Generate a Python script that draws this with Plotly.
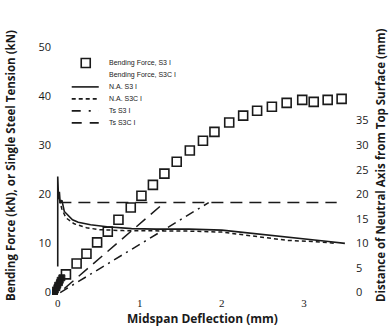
import plotly.graph_objects as go

# Bending Force, S3 I (kN) vs midspan deflection (mm)
bf_s3i_x = [0.10, 0.23, 0.35, 0.48, 0.61, 0.74, 0.89, 1.02, 1.16, 1.30, 1.45, 1.61, 1.77,
            1.91, 2.09, 2.26, 2.43, 2.61, 2.79, 2.98, 3.12, 3.29, 3.46]
bf_s3i_y = [3.7, 5.9, 7.9, 10.2, 12.4, 14.8, 17.3, 19.7, 21.9, 24.2, 26.6, 28.9, 30.9,
            32.7, 34.6, 36.0, 37.0, 37.8, 38.6, 39.2, 38.8, 39.2, 39.4]

# Bending Force, S3C I (clustered near origin)
bf_s3ci_x = [-0.04, -0.03, -0.01, 0.00, 0.02, 0.03, 0.05]
bf_s3ci_y = [0.0, 0.5, 1.0, 1.5, 2.0, 2.5, 3.0]

# Neutral axis depth (mm), right axis
na_s3i_x = [0.0, 0.0, 0.01, 0.02, 0.03, 0.05, 0.08, 0.12, 0.18, 0.25, 0.4, 0.6, 0.9,
            1.2, 1.6, 2.0, 2.3, 2.6, 3.0, 3.3, 3.5]
na_s3i_y = [5.3, 23.6, 19.0, 20.5, 18.2, 18.8, 16.5, 15.8, 14.8, 14.3, 13.8, 13.4, 13.0,
            12.9, 12.9, 12.7, 12.2, 11.6, 10.9, 10.4, 10.0]

na_s3ci_x = [0.02, 0.05, 0.1, 0.2, 0.35, 0.5, 0.8, 1.2, 1.6, 2.0, 2.4, 2.8, 3.1, 3.4]
na_s3ci_y = [19.0, 17.0, 15.2, 14.0, 13.2, 12.8, 12.6, 12.6, 12.5, 12.3, 11.5, 10.6, 10.4, 10.0]

# Single steel tension (kN)
ts_s3i_x = [0.03, 1.84]
ts_s3i_y = [0.0, 18.3]

ts_s3ci_x = [0.08, 1.30, None, 0.02, 3.40]
ts_s3ci_y = [0.8, 18.3, None, 18.3, 18.3]

x_ticks = [0, 1, 2, 3]
y_left_ticks = [0, 10, 20, 30, 40, 50]
y_right_ticks = [0, 5, 10, 15, 20, 25, 30, 35]

legend_labels = ["Bending Force, S3 I", "Bending Force, S3C I", "N.A. S3 I",
                 "N.A. S3C I", "Ts S3 I", "Ts S3C I"]

INK = "#1a1a1a"
fig = go.Figure()

fig.add_trace(go.Scatter(x=ts_s3i_x, y=ts_s3i_y, mode="lines",
                         line=dict(color=INK, width=1.5, dash="9px,5px,2px,5px")))
fig.add_trace(go.Scatter(x=ts_s3ci_x, y=ts_s3ci_y, mode="lines",
                         line=dict(color=INK, width=1.5, dash="12px,7px")))
fig.add_trace(go.Scatter(x=na_s3ci_x, y=na_s3ci_y, mode="lines", yaxis="y2",
                         line=dict(color=INK, width=1.5, dash="4px,3px")))
fig.add_trace(go.Scatter(x=na_s3i_x, y=na_s3i_y, mode="lines", yaxis="y2",
                         line=dict(color=INK, width=1.6)))
fig.add_trace(go.Scatter(x=bf_s3ci_x, y=bf_s3ci_y, mode="markers",
                         marker=dict(symbol="square", size=6, color=INK,
                                     line=dict(color=INK, width=1))))
fig.add_trace(go.Scatter(x=bf_s3i_x, y=bf_s3i_y, mode="markers",
                         marker=dict(symbol="square-open", size=9, color=INK,
                                     line=dict(color=INK, width=1.6))))

# manual legend (paper coords)
L, R, T, B = 52.3, 349.0, 37.0, 295.5
def px(xp): return (xp - L) / (R - L)
def py(yp): return (B - yp) / (B - T)

rows = [63, 75, 87, 99, 111, 123]
shapes = []
shapes.append(dict(type="rect", xref="paper", yref="paper",
                   x0=px(81.5), x1=px(90.5), y0=py(67.5), y1=py(58.5),
                   line=dict(color=INK, width=1.6)))
line_styles = {2: "solid", 3: "4px,3px", 4: "9px,8px,2px,8px", 5: "10px,8px"}
for i, d in line_styles.items():
    shapes.append(dict(type="line", xref="paper", yref="paper",
                       x0=px(72), x1=px(99), y0=py(rows[i]), y1=py(rows[i]),
                       line=dict(color=INK, width=1.6, dash=d)))

annotations = []
for i, lab in enumerate(legend_labels):
    annotations.append(dict(text=lab, xref="paper", yref="paper", x=px(107), y=py(rows[i]),
                            xanchor="left", yanchor="middle", showarrow=False,
                            font=dict(family="Liberation Sans", size=7, color=INK)))

annotations.append(dict(text="<b>Bending Force (kN), or Single Steel Tension (kN)</b>",
                        xref="paper", yref="paper", x=0, y=0.5, xshift=-42, textangle=-90,
                        showarrow=False, xanchor="center", yanchor="middle",
                        font=dict(family="Open Sans", size=11.5, color=INK)))
annotations.append(dict(text="<b>Distance of Neutral Axis from Top Surface (mm)</b>",
                        xref="paper", yref="paper", x=1, y=0.5, xshift=31, textangle=-90,
                        showarrow=False, xanchor="center", yanchor="middle",
                        font=dict(family="Open Sans", size=11.5, color=INK)))
annotations.append(dict(text="<b>Midspan Deflection (mm)</b>",
                        xref="paper", yref="paper", x=px(203), y=0, yshift=-23,
                        showarrow=False, xanchor="center", yanchor="middle",
                        font=dict(family="Open Sans", size=12, color=INK)))

fig.update_layout(
    width=389, height=332,
    margin=dict(l=52.3, r=40, t=37, b=36.5),
    paper_bgcolor="white", plot_bgcolor="white",
    showlegend=False,
    shapes=shapes, annotations=annotations,
    xaxis=dict(range=[-0.07, 3.55], tickvals=x_ticks, showgrid=False, zeroline=False,
               showline=False, ticks="", tickfont=dict(family="Liberation Serif", size=11, color=INK)),
    yaxis=dict(range=[-0.5, 52], tickvals=y_left_ticks, showgrid=False, zeroline=False,
               showline=False, ticks="", tickfont=dict(family="Open Sans", size=11, color=INK)),
    yaxis2=dict(range=[-0.5, 52], tickvals=y_right_ticks, overlaying="y", side="right",
                showgrid=False, zeroline=False, showline=False, ticks="",
                ticklabelstandoff=6,
                tickfont=dict(family="Open Sans", size=11, color=INK)),
)

fig.write_html("out.html")
